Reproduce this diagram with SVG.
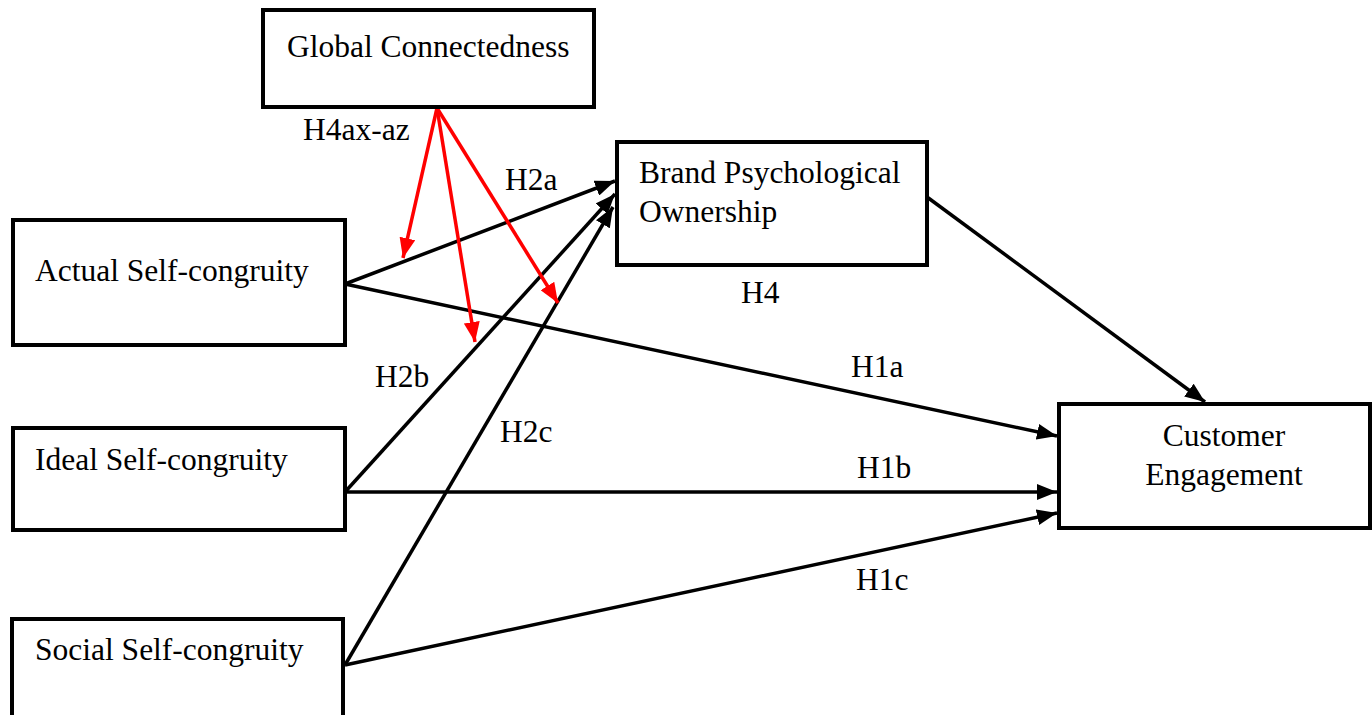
<svg xmlns="http://www.w3.org/2000/svg" width="1372" height="715" viewBox="0 0 1372 715">
<style>
.box{fill:#fff;stroke:#000;stroke-width:4}
text{font-family:"Liberation Serif","Times New Roman",serif;font-size:31.5px;fill:#000}
.bl{stroke:#000;stroke-width:3.5;fill:none;marker-end:url(#ab)}
.rd{stroke:#f00;stroke-width:3.5;fill:none;marker-end:url(#ar)}
</style>
<defs>
<marker id="ab" markerUnits="userSpaceOnUse" markerWidth="22" markerHeight="16" refX="20" refY="8" orient="auto"><path d="M0,0 L20,8 L0,16 Z" fill="#000"/></marker>
<marker id="ar" markerUnits="userSpaceOnUse" markerWidth="22" markerHeight="16" refX="20" refY="8" orient="auto"><path d="M0,0 L20,8 L0,16 Z" fill="#f00"/></marker>
</defs>
<rect width="1372" height="715" fill="#fff"/>
<g id="connectors">
<line class="bl" x1="345" y1="284" x2="615" y2="181"/>
<line class="bl" x1="345" y1="284" x2="1057" y2="436"/>
<line class="bl" x1="345" y1="492" x2="615" y2="194"/>
<line class="bl" x1="345" y1="492" x2="1057" y2="492"/>
<line class="bl" x1="345" y1="665" x2="613" y2="207"/>
<line class="bl" x1="345" y1="665" x2="1057" y2="513"/>
<line class="bl" x1="927" y1="197" x2="1205" y2="402"/>
<line class="rd" x1="437" y1="108" x2="403" y2="258"/>
<line class="rd" x1="437" y1="108" x2="475" y2="342"/>
<line class="rd" x1="437" y1="108" x2="558" y2="303"/>
</g>
<g id="labels">
<text x="303" y="140">H4ax-az</text>
<text x="505" y="190">H2a</text>
<text x="741" y="303">H4</text>
<text x="851" y="377">H1a</text>
<text x="375" y="387">H2b</text>
<text x="500" y="442">H2c</text>
<text x="857" y="478">H1b</text>
<text x="856" y="590">H1c</text>
</g>
<g id="global-connectedness">
<rect class="box" x="263" y="10" width="331" height="97"/>
<text x="287" y="57">Global Connectedness</text>
</g>
<g id="brand-psychological-ownership">
<rect class="box" x="617" y="142" width="310" height="123"/>
<text x="639" y="183">Brand Psychological</text>
<text x="639" y="222">Ownership</text>
</g>
<g id="customer-engagement">
<rect class="box" x="1059" y="404" width="311" height="124"/>
<text x="1224" y="446" text-anchor="middle">Customer</text>
<text x="1224" y="485" text-anchor="middle">Engagement</text>
</g>
<g id="actual-self-congruity">
<rect class="box" x="13" y="220" width="332" height="125"/>
<text x="35" y="281">Actual Self-congruity</text>
</g>
<g id="ideal-self-congruity">
<rect class="box" x="13" y="428" width="332" height="102"/>
<text x="35" y="470">Ideal Self-congruity</text>
</g>
<g id="social-self-congruity">
<rect class="box" x="12" y="619" width="331" height="110"/>
<text x="35" y="660">Social Self-congruity</text>
</g>
</svg>
